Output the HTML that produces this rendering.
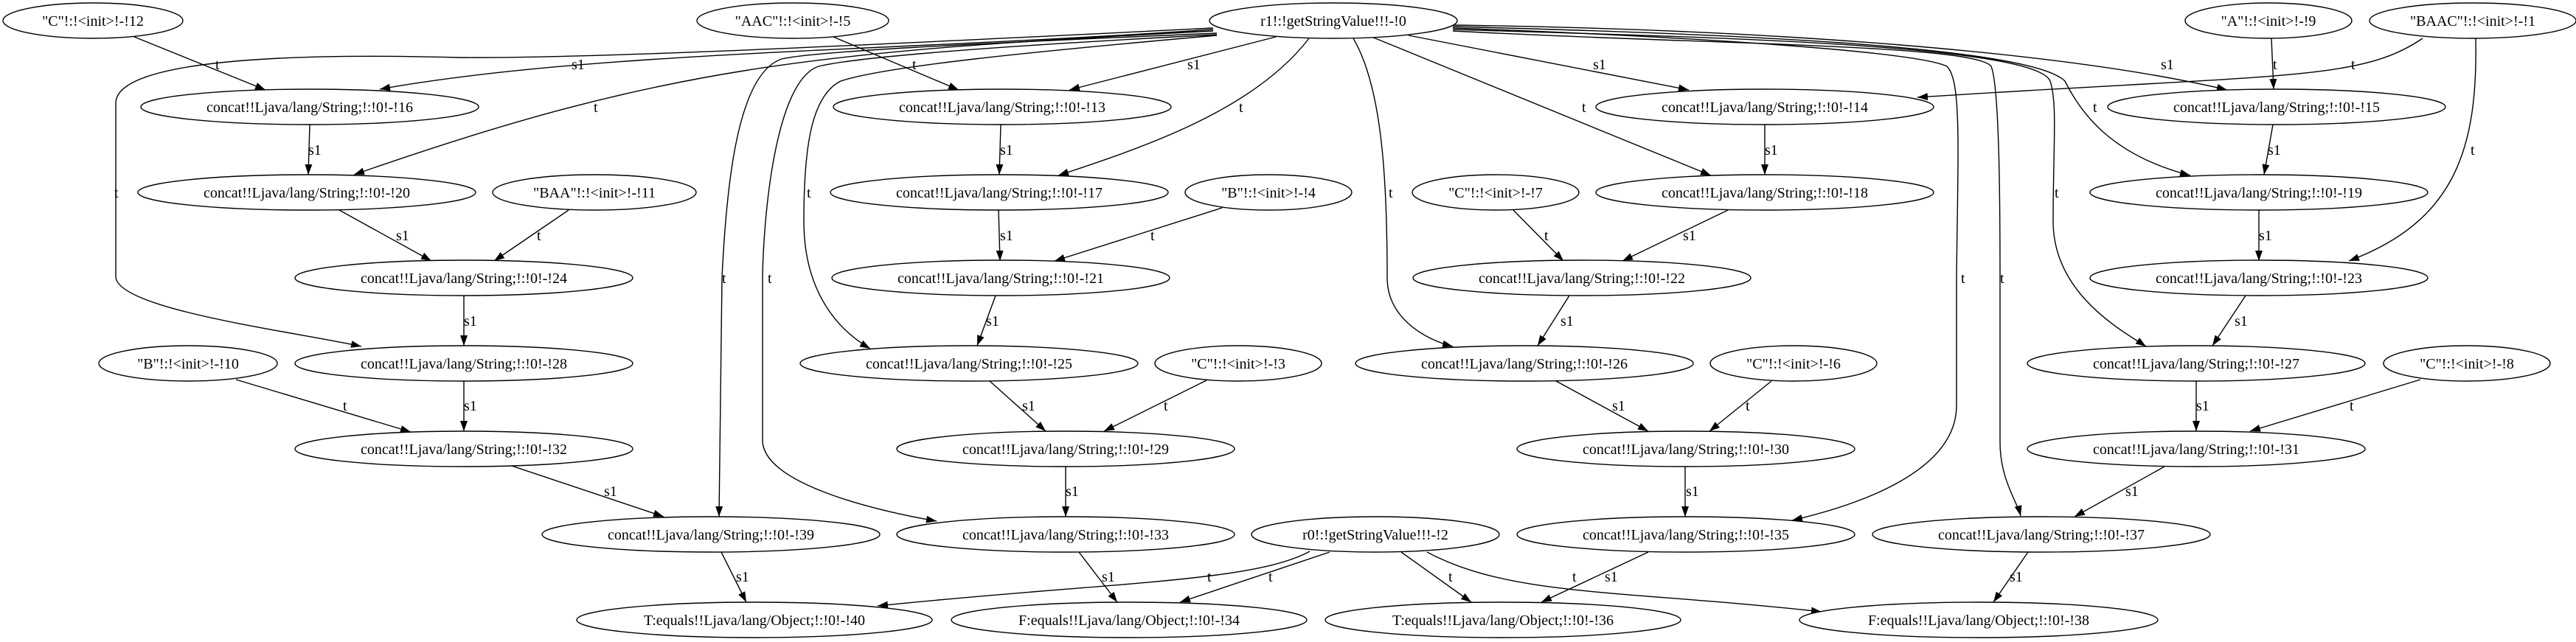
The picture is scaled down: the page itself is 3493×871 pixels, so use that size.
<!DOCTYPE html>
<html><head><meta charset="utf-8"><style>
html,body{margin:0;padding:0;background:#fff}
svg{display:block}
text{font-family:"Liberation Serif",serif;font-size:20px;fill:#000}
</style></head><body>
<svg width="3493" height="871" viewBox="0 0 3493 871" xmlns="http://www.w3.org/2000/svg">
<defs><marker id="a" markerWidth="14" markerHeight="10" refX="14" refY="5" orient="auto" markerUnits="userSpaceOnUse"><path d="M0,0 L14,5 L0,10 z" fill="#000"/></marker></defs>
<g fill="none" stroke="#000" stroke-width="1.4" marker-end="url(#a)">
<!-- r1 left -->
<path d="M1645,40 C1200,70 800,70 515,121"/>
<path d="M1645,42 C1100,70 900,90 480,237"/>
<path d="M1645,38 C1200,60 800,80 620,78 C400,72 157,80 157,140 L157,375 C157,420 400,450 490,470"/>
<path d="M1650,45 C1300,60 1100,70 1060,80 C1000,100 985,250 979,377 L975,701"/>
<path d="M1650,47 C1300,65 1150,80 1110,90 C1050,110 1035,300 1034,377 L1034,600 C1040,660 1200,695 1270,707"/>
<path d="M1650,48 C1400,70 1200,90 1140,110 C1100,130 1090,200 1090,300 C1090,400 1140,450 1180,473"/>
<path d="M1730,50 L1450,122"/>
<path d="M1775,52 C1700,150 1550,200 1435,238"/>
<path d="M1835,52 C1875,120 1881,250 1881,377 C1881,430 1930,460 1970,470"/>
<path d="M1860,50 L2320,238"/>
<path d="M1910,48 L2290,122"/>
<!-- r1 right -->
<path d="M1970,38 C2300,50 2600,70 2640,90 C2660,110 2655,200 2653,377 L2653,550 C2653,640 2520,685 2430,706"/>
<path d="M1970,42 C2300,60 2680,60 2700,90 C2712,120 2712,300 2712,377 L2712,600 C2712,650 2735,680 2740,700"/>
<path d="M1970,40 C2300,50 2760,60 2780,110 C2790,140 2784,200 2784,300 C2784,400 2880,450 2910,470"/>
<path d="M1970,36 C2300,45 2750,60 2800,110 C2820,150 2860,210 2970,238"/>
<path d="M1970,34 C2400,40 2800,70 3020,122"/>
<!-- others -->
<path d="M182,50 L360,122"/>
<path d="M1130,50 L1300,122"/>
<path d="M3080,52 L3083,121"/>
<path d="M3285,52 C3200,110 3100,100 2600,132"/>
<path d="M3357,52 C3360,200 3330,300 3185,354"/>
<path d="M420,169 L418,237"/>
<path d="M1357,169 L1355,237"/>
<path d="M2393,169 L2393,237"/>
<path d="M3082,169 L3070,237"/>
<path d="M460,285 L585,354"/>
<path d="M771,285 L670,354"/>
<path d="M1354,285 L1356,354"/>
<path d="M1657,282 L1430,354"/>
<path d="M2052,285 L2120,354"/>
<path d="M2343,285 L2200,354"/>
<path d="M3063,285 L3063,354"/>
<path d="M629,401 L629,469"/>
<path d="M1350,401 L1325,469"/>
<path d="M2128,401 L2085,469"/>
<path d="M3045,401 L3000,469"/>
<path d="M320,515 L557,586"/>
<path d="M629,517 L629,585"/>
<path d="M1342,517 L1418,585"/>
<path d="M1636,516 L1497,585"/>
<path d="M2110,517 L2235,585"/>
<path d="M2402,517 L2318,585"/>
<path d="M2978,517 L2978,585"/>
<path d="M3282,515 L3051,585"/>
<path d="M694,632 L900,701"/>
<path d="M1445,633 L1445,701"/>
<path d="M2285,633 L2285,701"/>
<path d="M2935,633 L2813,701"/>
<path d="M978,749 L1012,817"/>
<path d="M1463,749 L1515,817"/>
<path d="M1776,748 C1700,790 1500,790 1190,822"/>
<path d="M1803,749 L1600,817"/>
<path d="M1900,749 L1995,817"/>
<path d="M2235,749 L2090,817"/>
<path d="M1935,749 C2050,810 2200,800 2470,830"/>
<path d="M2750,749 L2703,817"/>
</g>
<g fill="#fff" stroke="#000" stroke-width="1.4">
<ellipse cx="126" cy="28" rx="122" ry="24"/>
<ellipse cx="1075" cy="28" rx="130" ry="24"/>
<ellipse cx="1808" cy="28" rx="168" ry="24"/>
<ellipse cx="3076" cy="28" rx="113" ry="24"/>
<ellipse cx="3353" cy="28" rx="140" ry="24"/>
<ellipse cx="420" cy="145" rx="229" ry="24"/>
<ellipse cx="1359" cy="145" rx="229" ry="24"/>
<ellipse cx="2393" cy="145" rx="229" ry="24"/>
<ellipse cx="3087" cy="145" rx="229" ry="24"/>
<ellipse cx="416" cy="261" rx="229" ry="24"/>
<ellipse cx="806" cy="261" rx="138" ry="24"/>
<ellipse cx="1355" cy="261" rx="229" ry="24"/>
<ellipse cx="1720" cy="261" rx="113" ry="24"/>
<ellipse cx="2028" cy="261" rx="113" ry="24"/>
<ellipse cx="2393" cy="261" rx="229" ry="24"/>
<ellipse cx="3063" cy="261" rx="229" ry="24"/>
<ellipse cx="629" cy="377" rx="229" ry="24"/>
<ellipse cx="1357" cy="377" rx="229" ry="24"/>
<ellipse cx="2145" cy="377" rx="229" ry="24"/>
<ellipse cx="3063" cy="377" rx="229" ry="24"/>
<ellipse cx="255" cy="493" rx="121" ry="24"/>
<ellipse cx="629" cy="493" rx="229" ry="24"/>
<ellipse cx="1314" cy="493" rx="229" ry="24"/>
<ellipse cx="1679" cy="493" rx="113" ry="24"/>
<ellipse cx="2067" cy="493" rx="229" ry="24"/>
<ellipse cx="2432" cy="493" rx="113" ry="24"/>
<ellipse cx="2978" cy="493" rx="229" ry="24"/>
<ellipse cx="3345" cy="493" rx="113" ry="24"/>
<ellipse cx="629" cy="609" rx="229" ry="24"/>
<ellipse cx="1445" cy="609" rx="229" ry="24"/>
<ellipse cx="2286" cy="609" rx="229" ry="24"/>
<ellipse cx="2978" cy="609" rx="229" ry="24"/>
<ellipse cx="964" cy="725" rx="229" ry="24"/>
<ellipse cx="1445" cy="725" rx="229" ry="24"/>
<ellipse cx="1865" cy="725" rx="168" ry="24"/>
<ellipse cx="2286" cy="725" rx="229" ry="24"/>
<ellipse cx="2768" cy="725" rx="229" ry="24"/>
<ellipse cx="1023" cy="841" rx="241" ry="24"/>
<ellipse cx="1531" cy="841" rx="241" ry="24"/>
<ellipse cx="2038" cy="841" rx="241" ry="24"/>
<ellipse cx="2683" cy="841" rx="243" ry="24"/>
</g>
<g text-anchor="middle">
<text x="126" y="35">"C"!:!&lt;init&gt;!-!12</text>
<text x="1075" y="35">"AAC"!:!&lt;init&gt;!-!5</text>
<text x="1808" y="35">r1!:!getStringValue!!!-!0</text>
<text x="3076" y="35">"A"!:!&lt;init&gt;!-!9</text>
<text x="3353" y="35">"BAAC"!:!&lt;init&gt;!-!1</text>
<text x="420" y="152">concat!!Ljava/lang/String;!:!0!-!16</text>
<text x="1359" y="152">concat!!Ljava/lang/String;!:!0!-!13</text>
<text x="2393" y="152">concat!!Ljava/lang/String;!:!0!-!14</text>
<text x="3087" y="152">concat!!Ljava/lang/String;!:!0!-!15</text>
<text x="416" y="268">concat!!Ljava/lang/String;!:!0!-!20</text>
<text x="806" y="268">"BAA"!:!&lt;init&gt;!-!11</text>
<text x="1355" y="268">concat!!Ljava/lang/String;!:!0!-!17</text>
<text x="1720" y="268">"B"!:!&lt;init&gt;!-!4</text>
<text x="2028" y="268">"C"!:!&lt;init&gt;!-!7</text>
<text x="2393" y="268">concat!!Ljava/lang/String;!:!0!-!18</text>
<text x="3063" y="268">concat!!Ljava/lang/String;!:!0!-!19</text>
<text x="629" y="384">concat!!Ljava/lang/String;!:!0!-!24</text>
<text x="1357" y="384">concat!!Ljava/lang/String;!:!0!-!21</text>
<text x="2145" y="384">concat!!Ljava/lang/String;!:!0!-!22</text>
<text x="3063" y="384">concat!!Ljava/lang/String;!:!0!-!23</text>
<text x="255" y="500">"B"!:!&lt;init&gt;!-!10</text>
<text x="629" y="500">concat!!Ljava/lang/String;!:!0!-!28</text>
<text x="1314" y="500">concat!!Ljava/lang/String;!:!0!-!25</text>
<text x="1679" y="500">"C"!:!&lt;init&gt;!-!3</text>
<text x="2067" y="500">concat!!Ljava/lang/String;!:!0!-!26</text>
<text x="2432" y="500">"C"!:!&lt;init&gt;!-!6</text>
<text x="2978" y="500">concat!!Ljava/lang/String;!:!0!-!27</text>
<text x="3345" y="500">"C"!:!&lt;init&gt;!-!8</text>
<text x="629" y="616">concat!!Ljava/lang/String;!:!0!-!32</text>
<text x="1445" y="616">concat!!Ljava/lang/String;!:!0!-!29</text>
<text x="2286" y="616">concat!!Ljava/lang/String;!:!0!-!30</text>
<text x="2978" y="616">concat!!Ljava/lang/String;!:!0!-!31</text>
<text x="964" y="732">concat!!Ljava/lang/String;!:!0!-!39</text>
<text x="1445" y="732">concat!!Ljava/lang/String;!:!0!-!33</text>
<text x="1865" y="732">r0!:!getStringValue!!!-!2</text>
<text x="2286" y="732">concat!!Ljava/lang/String;!:!0!-!35</text>
<text x="2768" y="732">concat!!Ljava/lang/String;!:!0!-!37</text>
<text x="1023" y="848">T:equals!!Ljava/lang/Object;!:!0!-!40</text>
<text x="1531" y="848">F:equals!!Ljava/lang/Object;!:!0!-!34</text>
<text x="2038" y="848">T:equals!!Ljava/lang/Object;!:!0!-!36</text>
<text x="2683" y="848">F:equals!!Ljava/lang/Object;!:!0!-!38</text>
</g>
<g>
<text x="292" y="94">t</text><text x="775" y="94">s1</text><text x="805" y="152">t</text>
<text x="155" y="268">t</text><text x="979" y="384">t</text><text x="1041" y="384">t</text><text x="1094" y="268">t</text>
<text x="1237" y="94">t</text><text x="1610" y="94">s1</text><text x="1680" y="152">t</text><text x="1883" y="268">t</text>
<text x="2145" y="152">t</text><text x="2160" y="94">s1</text><text x="2659" y="384">t</text><text x="2712" y="384">t</text>
<text x="2786" y="268">t</text><text x="2838" y="152">t</text><text x="2930" y="94">s1</text><text x="3082" y="94">t</text>
<text x="3188" y="94">t</text><text x="3350" y="210">t</text>
<text x="418" y="210">s1</text><text x="1356" y="210">s1</text><text x="2393" y="210">s1</text><text x="3075" y="210">s1</text>
<text x="537" y="326">s1</text><text x="728" y="326">t</text><text x="1356" y="326">s1</text><text x="1560" y="326">t</text>
<text x="2094" y="326">t</text><text x="2282" y="326">s1</text><text x="3063" y="326">s1</text>
<text x="629" y="442">s1</text><text x="1337" y="442">s1</text><text x="2116" y="442">s1</text><text x="3030" y="442">s1</text>
<text x="465" y="557">t</text><text x="629" y="557">s1</text><text x="1386" y="557">s1</text><text x="1578" y="557">t</text>
<text x="2186" y="557">s1</text><text x="2367" y="557">t</text><text x="2978" y="557">s1</text><text x="3186" y="557">t</text>
<text x="819" y="673">s1</text><text x="1445" y="673">s1</text><text x="2286" y="673">s1</text><text x="2882" y="673">s1</text>
<text x="998" y="789">s1</text><text x="1494" y="789">s1</text><text x="1637" y="789">t</text><text x="1720" y="789">t</text>
<text x="1964" y="789">t</text><text x="2132" y="789">t</text><text x="2176" y="789">s1</text><text x="2725" y="789">s1</text>
</g>
</svg>
</body></html>
